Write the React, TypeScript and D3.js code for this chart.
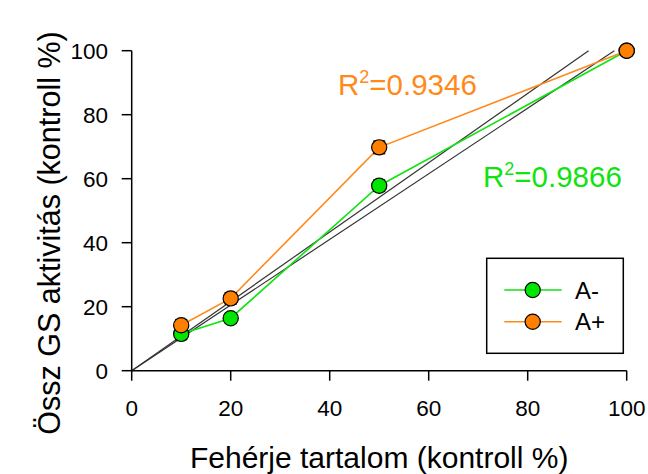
import React from "react";
import * as d3 from "d3";

const xValues = [10, 20, 50, 100];
const aMinus = [11.5, 16.4, 57.8, 100];
const aPlus = [14.2, 22.6, 69.8, 100];
const aMinusErr = [1.8, 1.5, 1.8, 0];
const aPlusErr = [1.8, 1.8, 2.0, 0];
const xTicks = [0, 20, 40, 60, 80, 100];
const yTicks = [0, 20, 40, 60, 80, 100];
const r2Labels = ["0.9346", "0.9866"];

const GREEN = "#10e310";
const GREEN_FILL = "#00e600";
const ORANGE = "#ff8a1c";
const ORANGE_FILL = "#ff7f00";

export default function App() {
  const W = 648, H = 474;
  const x = d3.scaleLinear().domain([0, 100]).range([131.7, 626.7]);
  const y = d3.scaleLinear().domain([0, 100]).range([370.7, 50.7]);
  const line = d3.line<[number, number]>().x(d => x(d[0])).y(d => y(d[1]));

  const series = [
    { vals: aMinus, err: aMinusErr, stroke: GREEN, fill: GREEN_FILL },
    { vals: aPlus, err: aPlusErr, stroke: ORANGE, fill: ORANGE_FILL },
  ];
  // regression lines through the origin
  const slopes = series.map(s =>
    d3.sum(xValues, (xv, i) => xv * s.vals[i]) / d3.sum(xValues, xv => xv * xv)
  );

  const font = "Liberation Sans, Arial, sans-serif";
  return (
    <svg width={W} height={H} style={{ position: "absolute", left: 0, top: 0, background: "#fff" }} fontFamily={font}>
      {/* regression lines */}
      {slopes.map((k, i) => (
        <path key={"r" + i} d={line([[0, 0], [100 / k, 100]]) || ""} stroke="#333" strokeWidth={1.2} fill="none" />
      ))}
      {/* data lines */}
      {series.map((s, i) => (
        <path key={"l" + i} d={line(xValues.map((xv, j) => [xv, s.vals[j]] as [number, number])) || ""} stroke={s.stroke} strokeWidth={1.6} fill="none" />
      ))}
      {/* error bars */}
      {series.map((s, i) =>
        xValues.map((xv, j) => s.err[j] > 0 ? (
          <g key={"e" + i + j} stroke="#000" strokeWidth={1.2}>
            <line x1={x(xv)} x2={x(xv)} y1={y(s.vals[j] - s.err[j])} y2={y(s.vals[j] + s.err[j])} />
            <line x1={x(xv) - 6} x2={x(xv) + 6} y1={y(s.vals[j] - s.err[j])} y2={y(s.vals[j] - s.err[j])} />
            <line x1={x(xv) - 6} x2={x(xv) + 6} y1={y(s.vals[j] + s.err[j])} y2={y(s.vals[j] + s.err[j])} />
          </g>
        ) : null)
      )}
      {/* markers */}
      {series.map((s, i) =>
        xValues.map((xv, j) => (
          <circle key={"c" + i + j} cx={x(xv)} cy={y(s.vals[j])} r={7.6} fill={s.fill} stroke="#000" strokeWidth={1.2} />
        ))
      )}
      {/* axes */}
      <line x1={x(0)} x2={x(0)} y1={y(0)} y2={y(100)} stroke="#000" strokeWidth={1.5} />
      <line x1={x(0)} x2={x(100)} y1={y(0)} y2={y(0)} stroke="#000" strokeWidth={1.5} />
      {yTicks.map(t => (
        <g key={"yt" + t}>
          <line x1={x(0) - 10} x2={x(0)} y1={y(t)} y2={y(t)} stroke="#000" strokeWidth={1.5} />
          <text x={108} y={y(t)} dy="0.36em" textAnchor="end" fontSize={22.5} fill="#000">{t}</text>
        </g>
      ))}
      {xTicks.map(t => (
        <g key={"xt" + t}>
          <line x1={x(t)} x2={x(t)} y1={y(0)} y2={y(0) + 10} stroke="#000" strokeWidth={1.5} />
          <text x={x(t)} y={416} textAnchor="middle" fontSize={22.5} fill="#000">{t}</text>
        </g>
      ))}
      <text x={(x(0) + x(100)) / 2} y={468} textAnchor="middle" fontSize={30} fill="#000">Fehérje tartalom (kontroll %)</text>
      <text transform={`translate(60,${233}) rotate(-90)`} textAnchor="middle" fontSize={30.5} fill="#000">Össz GS aktivitás (kontroll %)</text>

      {/* R² labels */}
      <text x={338} y={95} fontSize={29.5} fill={ORANGE}>R<tspan dy={-12} fontSize={18}>2</tspan><tspan dy={12}>={r2Labels[0]}</tspan></text>
      <text x={483} y={187} fontSize={29.5} fill={GREEN}>R<tspan dy={-12} fontSize={18}>2</tspan><tspan dy={12}>={r2Labels[1]}</tspan></text>

      {/* legend */}
      <rect x={486.7} y={258.3} width={136.6} height={95} fill="#fff" stroke="#000" strokeWidth={1.5} />
      {series.map((s, i) => {
        const ly = 290 + i * 31.7;
        return (
          <g key={"lg" + i}>
            <line x1={504.3} x2={561.7} y1={ly} y2={ly} stroke={s.stroke} strokeWidth={1.6} />
            <circle cx={532.7} cy={ly} r={7.6} fill={s.fill} stroke="#000" strokeWidth={1.2} />
            <text x={575} y={ly} dy="0.36em" fontSize={24} fill="#000">{i === 0 ? "A-" : "A+"}</text>
          </g>
        );
      })}
    </svg>
  );
}
